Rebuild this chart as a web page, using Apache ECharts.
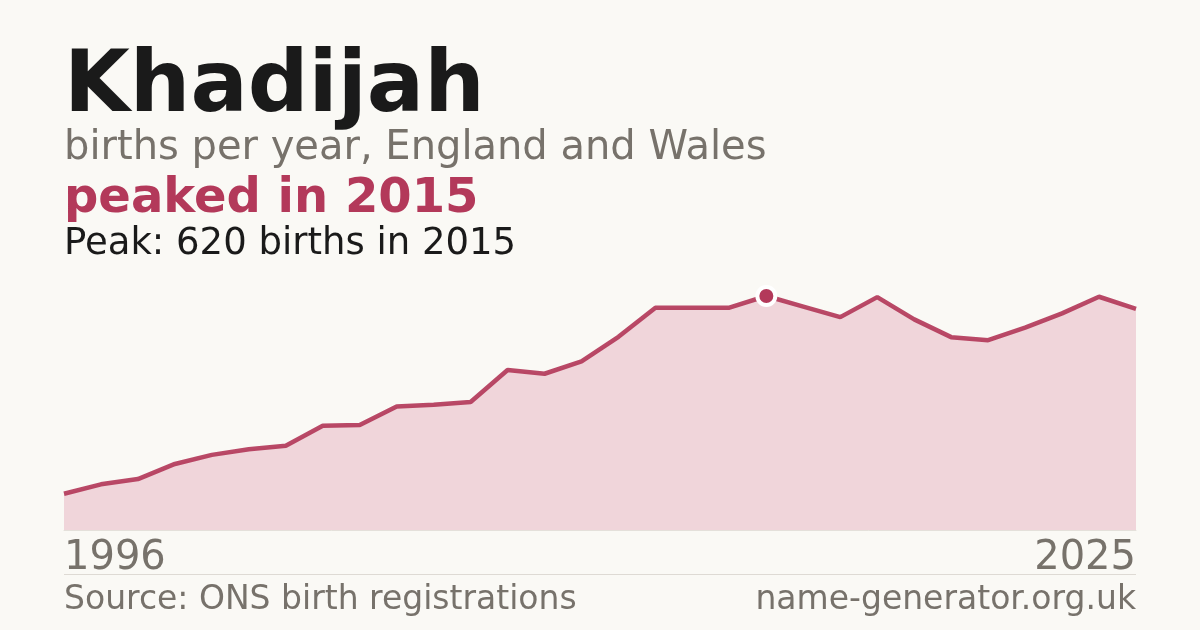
<!DOCTYPE html>
<html>
<head>
<meta charset="utf-8">
<script src="https://cdn.jsdelivr.net/npm/echarts@6/dist/echarts.min.js"></script>
<style>
html,body{margin:0;padding:0;background:#faf9f5;}
#c{width:1200px;height:630px;}
</style>
</head>
<body>
<div id="c"></div>
<script>
const years = ['1996','1997','1998','1999','2000','2001','2002','2003','2004','2005','2006','2007','2008','2009','2010','2011','2012','2013','2014','2015','2016','2017','2018','2019','2020','2021','2022','2023','2024','2025'];
const births = [96,121,135,175,199,214,223,276,278,327,332,339,424,414,447,512,589,589,589,620,592,564,617,558,511,503,536,574,618,586];
const peakYear = '2015';
const peakValue = 620;
const titleText = 'Khadijah';
const subtitleText = 'births per year, England and Wales';
const headlineText = 'peaked in 2015';
const peakText = 'Peak: 620 births in 2015';
const sourceText = 'Source: ONS birth registrations';
const siteText = 'name-generator.org.uk';

const FONT = '"DejaVu Sans", sans-serif';
const ACCENT = '#b3395a';
const GREY = '#77726b';

const chart = echarts.init(document.getElementById('c'), null, {renderer:'canvas'});
const peakData = years.map((y,i) => y === peakYear ? peakValue : null);

chart.setOption({
  backgroundColor: '#faf9f5',
  animation: false,
  grid: {left: 64, right: 64, top: 265.8, bottom: 100, containLabel: false},
  xAxis: {
    type: 'category', data: years, boundaryGap: false,
    axisLine: {show: true, lineStyle: {color: '#e4e0da', width: 1}},
    axisTick: {show: false},
    splitLine: {show: false},
    axisLabel: {
      interval: (i) => i === 0 || i === years.length - 1,
      showMinLabel: true, showMaxLabel: true,
      alignMinLabel: 'left', alignMaxLabel: 'right',
      color: GREY, fontFamily: FONT, fontSize: 40, margin: 9
    }
  },
  yAxis: {
    type: 'value', min: 0, max: 700, show: false,
    splitLine: {show: false}
  },
  series: [
    {
      type: 'line', data: births, symbol: 'none', smooth: false,
      lineStyle: {color: ACCENT, width: 4.5, opacity: 0.92},
      areaStyle: {color: '#f0d5da', opacity: 1},
      z: 2
    },
    {
      type: 'scatter', data: peakData, symbol: 'circle', symbolSize: 18,
      itemStyle: {color: ACCENT, borderColor: '#ffffff', borderWidth: 4, opacity: 1},
      z: 5
    }
  ],
  graphic: [
    {type: 'text', left: 64, top: 46, style: {text: titleText, fill: '#1a1a1a', font: 'bold 85px ' + FONT}},
    {type: 'text', left: 64, top: 129, style: {text: subtitleText, fill: GREY, font: '40px ' + FONT}},
    {type: 'text', left: 64, top: 176, style: {text: headlineText, fill: ACCENT, font: 'bold 48px ' + FONT}},
    {type: 'text', left: 64, top: 226, style: {text: peakText, fill: '#1a1a1a', font: '37px ' + FONT}},
    {type: 'line', shape: {x1: 64, y1: 574.5, x2: 1136, y2: 574.5}, style: {stroke: '#dedad4', lineWidth: 1}},
    {type: 'text', left: 64, top: 584, style: {text: sourceText, fill: GREY, font: '33px ' + FONT}},
    {type: 'text', right: 64, top: 584, style: {text: siteText, fill: GREY, font: '33px ' + FONT}}
  ]
});
</script>
</body>
</html>
